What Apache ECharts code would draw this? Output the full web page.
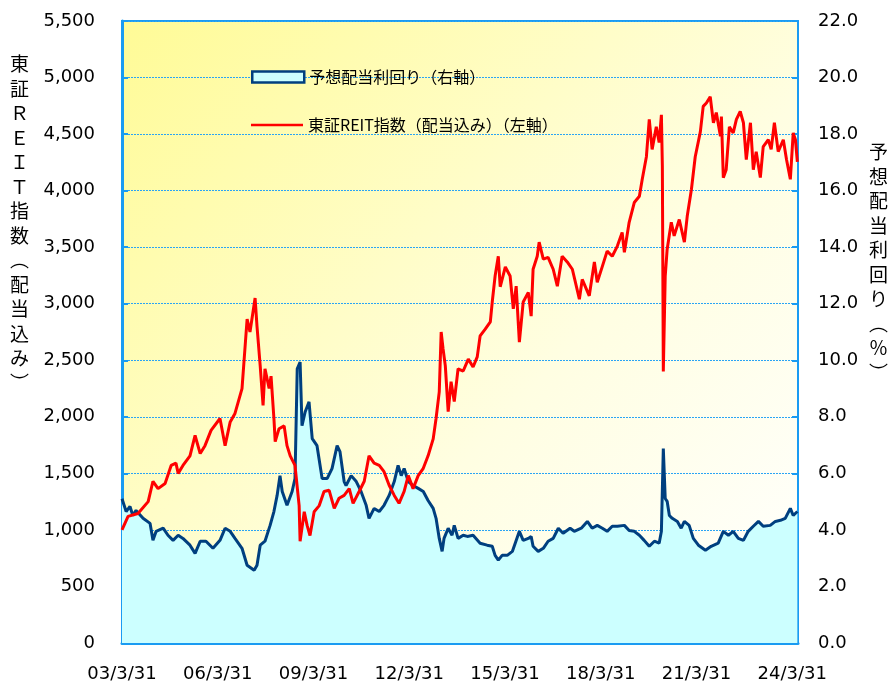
<!DOCTYPE html>
<html>
<head>
<meta charset="utf-8">
<script src="https://cdn.jsdelivr.net/npm/echarts@6/dist/echarts.min.js"></script>
<style>
  html, body { margin: 0; padding: 0; background: #fff; }
  #chart { width: 890px; height: 683px; }
</style>
</head>
<body>
<div id="chart"></div>
<script>
// x positions are years elapsed since 2003/3/31
const indexT = [0.00, 0.03, 0.19, 0.50, 0.82, 0.97, 1.13, 1.35, 1.54, 1.69, 1.76, 1.91, 2.13, 2.29, 2.45, 2.60, 2.79, 3.07, 3.23, 3.39, 3.54,
  3.76, 3.92, 4.01, 4.17, 4.23, 4.33, 4.42, 4.48, 4.61, 4.67, 4.76, 4.80, 4.92, 5.08, 5.17, 5.27, 5.42, 5.55, 5.58, 5.71, 5.80, 5.89,
  6.02, 6.18, 6.33, 6.49, 6.65, 6.80, 6.96, 7.12, 7.24, 7.43, 7.59, 7.74, 7.90, 8.06, 8.21, 8.37, 8.53, 8.68, 8.84, 8.97, 9.12, 9.28,
  9.44, 9.59, 9.75, 9.84, 9.94, 10.00, 10.06, 10.13, 10.22, 10.31, 10.41, 10.53, 10.69, 10.85, 11.00, 11.13, 11.22, 11.38, 11.54,
  11.60, 11.69, 11.79, 11.85, 12.01, 12.16, 12.26, 12.35, 12.45, 12.57, 12.73, 12.82, 12.88, 13.01, 13.07, 13.20, 13.35, 13.51,
  13.64, 13.79, 13.95, 14.11, 14.33, 14.42, 14.64, 14.80, 14.89, 15.05, 15.20, 15.36, 15.52, 15.67, 15.74, 15.89, 16.05, 16.21,
  16.30, 16.43, 16.52, 16.61, 16.74, 16.83, 16.90, 16.93, 16.96, 17.02, 17.08, 17.21, 17.30, 17.46, 17.62, 17.71, 17.84, 17.96,
  18.12, 18.21, 18.31, 18.43, 18.53, 18.62, 18.75, 18.78, 18.84, 18.93, 19.03, 19.15, 19.25, 19.37, 19.47, 19.56, 19.69, 19.78,
  19.87, 20.00, 20.09, 20.25, 20.34, 20.44, 20.56, 20.72, 20.82, 20.94, 21.03, 21.10, 21.16];
const indexVals = [1000, 1000, 1120, 1145, 1250, 1430, 1365, 1410, 1570, 1590, 1500, 1570, 1655, 1835, 1675, 1745, 1880, 1985, 1745, 1955, 2030,
  2250, 2865, 2750, 3050, 2800, 2450, 2100, 2425, 2250, 2360, 1985, 1780, 1895, 1920, 1745, 1655, 1570, 1215, 900, 1160, 1040, 950,
  1160, 1215, 1340, 1350, 1190, 1280, 1305, 1365, 1235, 1340, 1430, 1655, 1590, 1570, 1515, 1395, 1305, 1235, 1340, 1480, 1365, 1480,
  1545, 1655, 1805, 1985, 2220, 2750, 2600, 2450, 2045, 2310, 2135, 2425, 2405, 2510, 2440, 2530, 2715, 2775, 2840,
  3015, 3245, 3420, 3150, 3325, 3245, 2955, 3155, 2660, 3015, 3100, 2890, 3305, 3420, 3545, 3395, 3410, 3305,
  3155, 3420, 3370, 3305, 3040, 3215, 3070, 3370, 3190, 3330, 3465, 3420, 3510, 3630, 3455, 3720, 3895, 3950,
  4100, 4300, 4630, 4365, 4565, 4425, 4670, 4215, 2400, 3245, 3480, 3720, 3600, 3745, 3545, 3775, 4010, 4300,
  4520, 4745, 4775, 4830, 4600, 4690, 4480, 4655, 4115, 4185, 4565, 4510, 4630, 4700, 4600, 4275, 4600, 4185,
  4345, 4115, 4390, 4450, 4365, 4600, 4345, 4450, 4275, 4100, 4510, 4450, 4255];

const yieldT = [0.00, 0.03, 0.13, 0.25, 0.34, 0.44, 0.66, 0.88, 0.97, 1.07, 1.29, 1.44, 1.60, 1.76, 1.91, 2.13, 2.29, 2.45, 2.63, 2.85,
  3.07, 3.23, 3.39, 3.54, 3.76, 3.92, 4.14, 4.23, 4.33, 4.48, 4.64, 4.76, 4.86, 4.95, 5.02, 5.17, 5.33, 5.42, 5.49, 5.58, 5.64, 5.74,
  5.86, 5.96, 6.11, 6.27, 6.43, 6.58, 6.74, 6.83, 6.96, 7.02, 7.18, 7.34, 7.49, 7.65, 7.74, 7.90, 8.06, 8.21, 8.37, 8.53, 8.65, 8.75,
  8.84, 8.97, 9.12, 9.28, 9.44, 9.59, 9.75, 9.84, 9.94, 10.03, 10.09, 10.22, 10.34, 10.41, 10.53, 10.69, 10.82, 11.00, 11.22, 11.44,
  11.60, 11.69, 11.79, 11.91, 12.07, 12.23, 12.32, 12.45, 12.57, 12.73, 12.82, 12.88, 13.04, 13.20, 13.35, 13.51, 13.67, 13.82,
  14.04, 14.17, 14.39, 14.58, 14.73, 14.89, 15.05, 15.20, 15.36, 15.52, 15.74, 15.89, 16.05, 16.21, 16.36, 16.52, 16.68, 16.83,
  16.90, 16.96, 17.02, 17.08, 17.15, 17.24, 17.40, 17.52, 17.62, 17.77, 17.90, 18.06, 18.28, 18.46, 18.68, 18.84, 19.00, 19.15,
  19.31, 19.47, 19.62, 19.78, 19.94, 20.09, 20.31, 20.47, 20.63, 20.78, 20.94, 21.03, 21.16];
const yieldVals = [5.10, 5.04, 4.65, 4.83, 4.51, 4.69, 4.41, 4.23, 3.63, 3.95, 4.06, 3.81, 3.63, 3.81, 3.70, 3.46, 3.17, 3.60, 3.60, 3.35,
  3.63, 4.06, 3.95, 3.70, 3.35, 2.75, 2.57, 2.75, 3.46, 3.60, 4.16, 4.65, 5.22, 5.92, 5.36, 4.87, 5.36, 5.82, 9.70, 9.94, 7.69, 8.18,
  8.53, 7.23, 6.98, 5.82, 5.82, 6.17, 6.98, 6.77, 5.71, 5.57, 5.92, 5.71, 5.36, 4.87, 4.41, 4.76, 4.65, 4.87, 5.22, 5.71, 6.28, 5.92,
  6.17, 5.71, 5.57, 5.47, 5.36, 5.04, 4.76, 4.41, 3.70, 3.24, 3.70, 4.06, 3.81, 4.16, 3.70, 3.81, 3.77, 3.81, 3.53, 3.46,
  3.42, 3.10, 2.93, 3.10, 3.10, 3.24, 3.53, 3.95, 3.63, 3.70, 3.77, 3.42, 3.24, 3.35, 3.60, 3.70, 4.06, 3.88,
  4.06, 3.95, 4.06, 4.30, 4.06, 4.16, 4.06, 3.95, 4.13, 4.13, 4.16, 3.98, 3.95, 3.81, 3.63, 3.42, 3.60, 3.53,
  3.95, 6.88, 5.11, 5.01, 4.51, 4.41, 4.30, 4.06, 4.30, 4.16, 3.70, 3.46, 3.28, 3.42, 3.53, 3.95, 3.81, 3.95,
  3.70, 3.63, 3.95, 4.13, 4.30, 4.13, 4.16, 4.30, 4.34, 4.41, 4.76, 4.51, 4.65];

const yieldName = '予想配当利回り（右軸）';
const indexName = '東証REIT指数（配当込み）（左軸）';
const leftTitle = '東\n証\nＲ\nＥ\nＩ\nＴ\n指\n数\n︵\n配\n当\n込\nみ\n︶';
const rightTitle = '予\n想\n配\n当\n利\n回\nり\n︵\n％\n︶';

const blue = '#1a9bf2';
const navy = '#003f7f';
const labelFont = { fontFamily: 'DejaVu Sans', fontSize: 18, color: '#000' };
const legendText = { fontFamily: 'Noto Sans CJK JP', fontSize: 16, color: '#000' };

const chart = echarts.init(document.getElementById('chart'));
chart.setOption({
  animation: false,
  backgroundColor: '#fff',
  grid: {
    left: 122, right: 92, top: 21, bottom: 38,
    show: true,
    borderColor: blue,
    borderWidth: 2,
    backgroundColor: new echarts.graphic.LinearGradient(0, 0, 1, 1, [
      { offset: 0, color: '#fffb96' },
      { offset: 0.6, color: '#fffee2' },
      { offset: 1, color: '#ffffff' }
    ])
  },
  legend: [
    {
      left: 246, top: 64, itemWidth: 52, itemHeight: 11, itemGap: 7,
      textStyle: legendText,
      data: [{ name: yieldName, icon: 'rect', itemStyle: { color: '#ccffff', borderColor: navy, borderWidth: 2.5 } }]
    },
    {
      left: 246, top: 112, itemWidth: 52, itemHeight: 11,
      textStyle: legendText,
      data: [{ name: indexName, icon: 'path://M0,0H52V2.5H0Z', itemStyle: { color: '#ff0000' } }]
    }
  ],
  graphic: [
    {
      type: 'text', left: 10, top: 52,
      style: { text: leftTitle, font: '19px "Noto Sans CJK JP"', lineHeight: 24.5, fill: '#000', align: 'center' }
    },
    {
      type: 'text', left: 869, top: 140,
      style: { text: rightTitle, font: '19px "Noto Sans CJK JP"', lineHeight: 24.5, fill: '#000', align: 'center' }
    }
  ],
  xAxis: {
    type: 'value', min: 0, max: 21.18, interval: 3,
    axisLine: { lineStyle: { color: blue, width: 3 } },
    axisTick: { inside: true, length: 6, lineStyle: { color: blue, width: 2 } },
    splitLine: { show: false },
    axisLabel: Object.assign({}, labelFont, {
      margin: 22, showMaxLabel: false,
      formatter: v => (v % 3 === 0 ? String(3 + v).padStart(2, '0') + '/3/31' : '')
    })
  },
  yAxis: [
    {
      type: 'value', min: 0, max: 5500, interval: 500, position: 'left',
      axisLine: { show: true, lineStyle: { color: blue, width: 3 } },
      axisTick: { show: true, inside: true, length: 6, lineStyle: { color: blue, width: 2 } },
      splitLine: { lineStyle: { color: '#2aa4f4', width: 1, type: [2, 1] } },
      axisLabel: Object.assign({}, labelFont, { margin: 27, formatter: v => v.toLocaleString('en-US') })
    },
    {
      type: 'value', min: 0, max: 22, interval: 2, position: 'right',
      axisLine: { show: true, lineStyle: { color: blue, width: 2 } },
      axisTick: { show: true, inside: true, length: 6, lineStyle: { color: blue, width: 2 } },
      splitLine: { show: false },
      axisLabel: Object.assign({}, labelFont, { margin: 20, formatter: v => v.toFixed(1) })
    }
  ],
  series: [
    {
      name: yieldName, type: 'line', yAxisIndex: 1, symbol: 'none',
      lineStyle: { color: navy, width: 3 },
      itemStyle: { color: navy },
      areaStyle: { color: '#ccffff', opacity: 1 },
      data: yieldT.map((t, i) => [t, yieldVals[i]])
    },
    {
      name: indexName, type: 'line', yAxisIndex: 0, symbol: 'none',
      lineStyle: { color: '#ff0000', width: 3 },
      itemStyle: { color: '#ff0000' },
      data: indexT.map((t, i) => [t, indexVals[i]])
    }
  ]
});
</script>
</body>
</html>
